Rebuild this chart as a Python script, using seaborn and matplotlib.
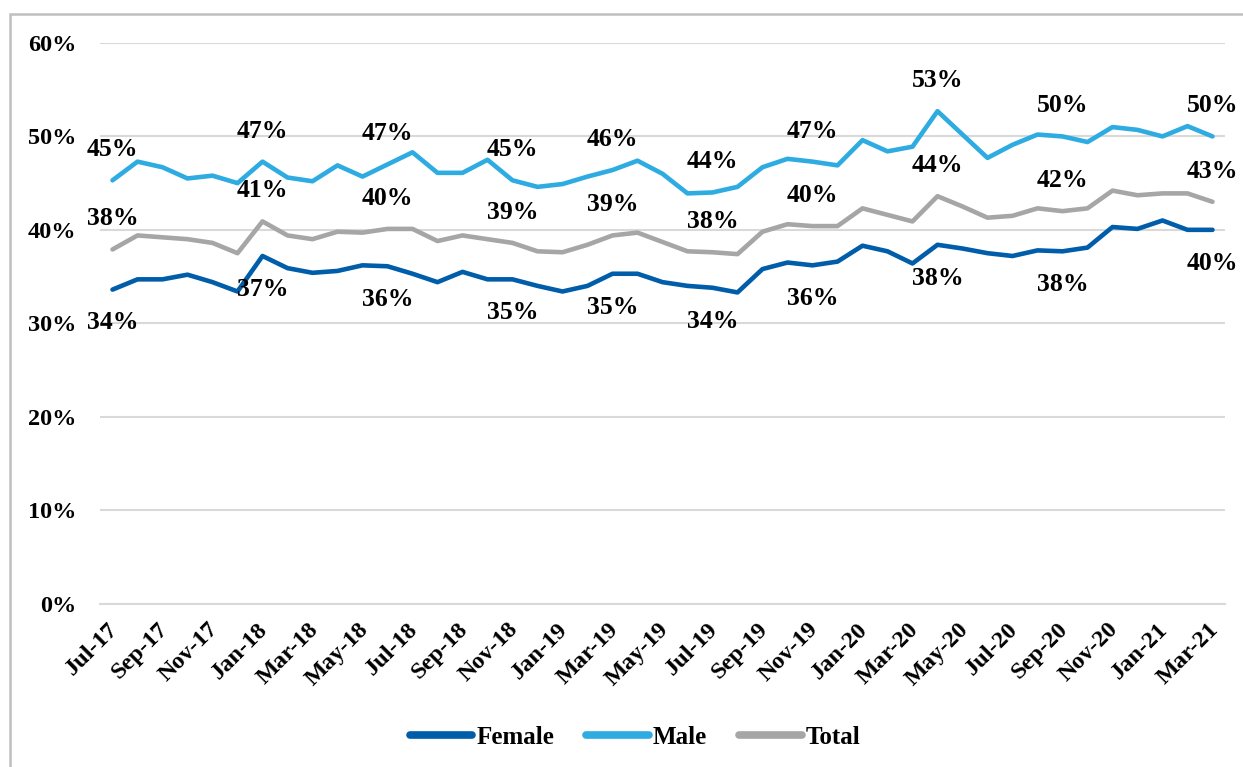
import numpy as np
import pandas as pd
import seaborn as sns
import matplotlib.pyplot as plt
from matplotlib.patches import Rectangle
from matplotlib.ticker import FuncFormatter, FixedLocator
from matplotlib.transforms import ScaledTranslation

# monthly share by gender, Jul-17 .. Mar-21 (percent)
months = pd.date_range('2017-07-01', periods=45, freq='MS').strftime('%b-%y').tolist()

female = [33.6, 34.7, 34.7, 35.2, 34.4, 33.4, 37.2, 35.9, 35.4, 35.6,
          36.2, 36.1, 35.3, 34.4, 35.5, 34.7, 34.7, 34.0, 33.4, 34.0,
          35.3, 35.3, 34.4, 34.0, 33.8, 33.3, 35.8, 36.5, 36.2, 36.6,
          38.3, 37.7, 36.4, 38.4, 38.0, 37.5, 37.2, 37.8, 37.7, 38.1,
          40.3, 40.1, 41.0, 40.0, 40.0]
male = [45.3, 47.3, 46.7, 45.5, 45.8, 45.0, 47.3, 45.6, 45.2, 46.9,
        45.7, 47.0, 48.3, 46.1, 46.1, 47.5, 45.3, 44.6, 44.9, 45.7,
        46.4, 47.4, 46.0, 43.9, 44.0, 44.6, 46.7, 47.6, 47.3, 46.9,
        49.6, 48.4, 48.9, 52.7, 50.2, 47.7, 49.1, 50.2, 50.0, 49.4,
        51.0, 50.7, 50.0, 51.1, 50.0]
total = [37.9, 39.4, 39.2, 39.0, 38.6, 37.5, 40.9, 39.4, 39.0, 39.8,
         39.7, 40.1, 40.1, 38.8, 39.4, 39.0, 38.6, 37.7, 37.6, 38.4,
         39.4, 39.7, 38.7, 37.7, 37.6, 37.4, 39.8, 40.6, 40.4, 40.4,
         42.3, 41.6, 40.9, 43.6, 42.5, 41.3, 41.5, 42.3, 42.0, 42.3,
         44.2, 43.7, 43.9, 43.9, 43.0]

# points that carry a data label
label_idx = [0, 6, 11, 16, 20, 24, 28, 33, 38, 44]

series = {'Female': female, 'Male': male, 'Total': total}
colors = {'Female': '#005DAA', 'Male': '#2EACE2', 'Total': '#A6A6A6'}

df = pd.concat([pd.DataFrame({'idx': range(len(months)), 'value': v, 'series': k})
                for k, v in series.items()], ignore_index=True)

sns.set_style('white')
plt.rcParams['font.family'] = ['Liberation Serif', 'DejaVu Serif']
plt.rcParams['font.weight'] = 'bold'
plt.rcParams['text.color'] = 'black'
plt.rcParams['xtick.labelcolor'] = 'black'
plt.rcParams['ytick.labelcolor'] = 'black'

fig = plt.figure(figsize=(12.43, 7.67), dpi=100)
ax = fig.add_axes([100/1243, 1 - 603.5/767, 1125/1243, 560.5/767])

sns.lineplot(data=df, x='idx', y='value', hue='series', palette=colors,
             linewidth=3.3, ax=ax, legend=False, solid_capstyle='round')

ax.set_ylim(0, 60)
ax.set_xlim(-0.5, len(months) - 0.5)
ax.set_yticks(range(0, 61, 10))
ax.yaxis.set_major_formatter(FuncFormatter(lambda v, p: f'{v:.0f}%'))
ax.grid(axis='y', color='#D9D9D9', linewidth=1.5)
ax.set_axisbelow(True)
for s in ['top', 'right', 'left']:
    ax.spines[s].set_visible(False)
ax.spines['bottom'].set_color('#D9D9D9')
ax.spines['bottom'].set_linewidth(1.5)

ax.set_xticks(range(0, len(months), 2))
ax.set_xticklabels(months[::2], rotation=45, ha='right', rotation_mode='anchor')
ax.xaxis.set_minor_locator(FixedLocator(np.arange(-0.5, len(months) - 1, 2)))
ax.tick_params(axis='x', which='major', length=0, pad=11, labelsize=17.5, labelcolor='black')
ax.tick_params(axis='x', which='minor', length=5, width=1.5, color='#D9D9D9', direction='out')
ax.tick_params(axis='y', length=0, pad=17, labelsize=17.5, labelcolor='black')
shift = ScaledTranslation(-5/100, 0, fig.dpi_scale_trans)
for t in ax.get_xticklabels():
    t.set_fontweight('bold')
    t.set_transform(t.get_transform() + shift)
for t in ax.get_yticklabels():
    t.set_fontweight('bold')
ax.set_xlabel('')
ax.set_ylabel('')

for name, vals in series.items():
    dy = -24 if name == 'Female' else 22
    for i in label_idx:
        ax.annotate(f'{vals[i]:.0f}%', (i, vals[i]), xytext=(0, dy),
                    textcoords='offset points', ha='center', va='center',
                    fontsize=18.5, fontweight='bold', color='black')

handles = [plt.Line2D([], [], color=colors[k], lw=5.5, solid_capstyle='round') for k in series]
leg = fig.legend(handles, list(series), loc='center', bbox_to_anchor=(0.511, 1 - 737/767),
                 ncol=3, frameon=False, handlelength=2.5, handletextpad=0.15,
                 columnspacing=1.3, prop={'size': 18, 'weight': 'bold'})
for t in leg.get_texts():
    t.set_color('black')

# chart border (left and top edges only visible)
fig.patches.append(Rectangle((10/1243, -0.2), 1.2, 1.2 - 13.5/767, transform=fig.transFigure,
                             fill=False, edgecolor='#BFBFBF', linewidth=1.8))

fig.savefig('out.png', dpi=100)
